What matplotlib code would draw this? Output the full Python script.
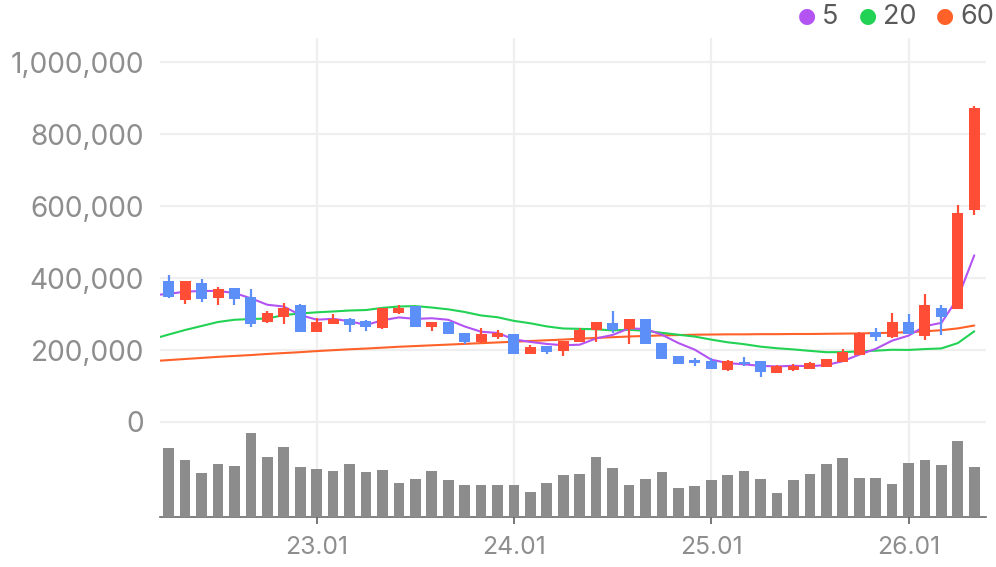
import matplotlib
matplotlib.use("Agg")
import matplotlib.pyplot as plt
import numpy as np
import pandas as pd

# ---------------- data ----------------
months = [p.strftime("%y.%m") for p in pd.period_range("2022-04", periods=50, freq="M")]

opens = [391.7, 339.7, 386.0, 345.0, 372.0, 347.0, 278.6, 292.5, 325.0, 250.8,
         272.0, 285.0, 281.0, 262.0, 303.6, 322.0, 264.7, 278.6, 248.0, 221.0,
         237.0, 244.0, 189.7, 211.0, 198.0, 223.0, 254.7, 275.0, 257.5, 286.0,
         219.0, 183.0, 172.0, 169.4, 144.4, 167.5, 169.4, 137.0, 144.4, 148.0,
         153.6, 165.8, 186.0, 249.0, 235.0, 278.6, 239.7, 316.7, 314.0, 589.7]
highs = [408.0, 391.7, 397.0, 375.0, 372.0, 369.0, 308.0, 330.6, 327.8, 289.0,
         300.0, 288.0, 283.0, 317.5, 325.0, 322.0, 277.8, 279.0, 248.0, 262.0,
         255.6, 244.0, 214.0, 211.0, 225.8, 260.0, 277.0, 308.0, 286.0, 286.0,
         219.0, 183.0, 178.6, 178.6, 172.0, 180.6, 169.4, 158.0, 160.3, 167.5,
         175.0, 202.8, 250.8, 260.0, 302.8, 300.0, 355.6, 325.0, 602.8, 877.8]
lows = [345.0, 328.6, 334.0, 326.0, 326.0, 265.0, 276.0, 273.0, 250.8, 250.8,
        272.0, 250.8, 253.0, 258.0, 300.0, 264.7, 253.0, 244.0, 217.0, 218.5,
        230.6, 189.7, 189.7, 189.0, 184.0, 223.0, 223.0, 246.0, 216.0, 217.5,
        176.0, 162.0, 156.0, 148.0, 141.7, 156.0, 125.8, 137.0, 141.7, 148.0,
        153.6, 165.8, 186.0, 225.8, 233.0, 245.0, 228.6, 242.5, 314.0, 575.0]
closes = [346.4, 391.7, 341.7, 369.0, 342.6, 273.0, 302.0, 317.5, 250.8, 277.8,
          285.0, 269.0, 265.0, 316.0, 317.5, 264.7, 277.8, 244.0, 223.0, 244.0,
          248.0, 189.7, 207.5, 195.0, 225.8, 255.6, 277.0, 255.6, 286.0, 217.5,
          176.0, 162.0, 163.0, 148.0, 168.6, 160.0, 139.7, 155.6, 156.4, 164.0,
          175.0, 193.6, 246.4, 236.0, 278.6, 245.0, 325.0, 292.5, 580.6, 872.0]

# moving-average values for the month before the first candle (clipped at the left edge)
ma_prev = {"5": 352.0, "20": 230.0, "60": 169.0}

ma5 = [356.0, 362.0, 364.0, 364.0, 358.3, 343.6, 325.7, 320.8, 297.2, 284.2,
       286.6, 280.0, 269.5, 282.6, 290.5, 286.4, 288.2, 284.0, 265.4, 250.7,
       247.4, 229.7, 222.4, 216.8, 213.2, 214.7, 232.2, 241.8, 260.0, 258.3,
       242.4, 219.4, 200.9, 173.3, 163.5, 160.3, 155.9, 154.4, 156.1, 155.1,
       158.1, 168.9, 187.1, 203.0, 225.9, 239.9, 266.2, 275.4, 344.3, 463.0]
ma20 = [243.0, 255.6, 266.7, 277.8, 284.0, 286.0, 287.5, 297.0, 301.4, 304.7,
        307.0, 309.7, 311.0, 317.0, 320.8, 322.0, 318.0, 313.0, 305.6, 295.9,
        291.0, 280.9, 274.2, 265.5, 259.7, 258.8, 257.5, 254.4, 256.2, 253.2,
        247.7, 242.4, 237.3, 228.9, 221.4, 216.2, 209.3, 204.9, 201.6, 197.6,
        193.9, 194.1, 196.0, 198.1, 200.7, 200.2, 202.6, 204.4, 219.2, 251.9]
ma60 = [172.0, 175.0, 178.0, 181.0, 183.5, 186.0, 189.0, 191.5, 194.0, 197.0,
        199.5, 202.0, 204.0, 206.5, 209.0, 211.0, 213.0, 215.0, 217.0, 219.0,
        221.0, 223.0, 225.0, 227.0, 229.0, 231.5, 233.5, 235.5, 237.5, 239.0,
        240.5, 241.5, 242.5, 243.0, 243.5, 243.5, 244.0, 244.0, 244.5, 244.5,
        245.0, 245.5, 246.0, 247.0, 248.0, 249.5, 252.0, 255.0, 260.0, 268.0]

volumes = [206, 170, 132, 159, 153, 251, 180, 210, 149, 143,
           137, 159, 134, 140, 102, 113, 137, 110, 96, 96,
           96, 96, 75, 102, 125, 129, 180, 146, 96, 113,
           134, 86, 92, 110, 125, 137, 113, 71, 110, 129,
           159, 176, 116, 116, 99, 162, 170, 156, 228, 149]

ma_labels = ["5", "20", "60"]
yticks = [0, 200000, 400000, 600000, 800000, 1000000]

# ---------------- style ----------------
RED = "#ff4d36"
BLUE = "#5c90f8"
C5 = "#b353f2"
C20 = "#22d254"
C60 = "#ff6128"
GRID = "#efefef"
TXT = "#8e8e8e"

plt.rcParams["font.family"] = ["Inter", "DejaVu Sans"]

W, H = 996, 567
fig = plt.figure(figsize=(W / 100, H / 100), dpi=100)

left_px, right_px = 160, 986
top_px, bottom_px = 38, 517
zero_px, top_val_px = 422, 62

ax = fig.add_axes([left_px / W, (H - bottom_px) / H,
                   (right_px - left_px) / W, (bottom_px - top_px) / H])
ax.set_facecolor("none")

x = np.arange(len(months))
o = np.array(opens) * 1000
h = np.array(highs) * 1000
l = np.array(lows) * 1000
c = np.array(closes) * 1000

ppu = (zero_px - top_val_px) / 1_000_000
ymin = -(bottom_px - zero_px) / ppu
ymax = 1_000_000 + (top_val_px - top_px) / ppu
ax.set_ylim(ymin, ymax)
xl = (left_px - 168.7) / 16.44
xr = (right_px - 168.7) / 16.44
ax.set_xlim(xl, xr)

# grid
for yv in yticks:
    ax.axhline(yv, color=GRID, lw=1.6, zorder=0)
tick_idx = [i for i, m in enumerate(months) if m.endswith(".01")]
for ti in tick_idx:
    ax.axvline(ti, color=GRID, lw=1.6, zorder=0)

# moving averages (under candles), including the clipped previous month
xm = np.arange(-1, len(months))
for key, vals, col in [("60", ma60, C60), ("20", ma20, C20), ("5", ma5, C5)]:
    ax.plot(xm, np.array([ma_prev[key]] + vals) * 1000, color=col, lw=1.5,
            zorder=2, solid_capstyle="round")

# candles
cols = [RED if cc >= oo else BLUE for oo, cc in zip(o, c)]
ax.vlines(x, l, h, colors=cols, lw=1.6, zorder=3)
bot = np.minimum(o, c)
hgt = np.maximum(np.abs(c - o), 3000)
ax.bar(x, hgt, bottom=bot, width=0.67, color=cols, zorder=4, linewidth=0)

# axes styling
for s in ["top", "right", "left"]:
    ax.spines[s].set_visible(False)
ax.spines["bottom"].set_color("#6b6b6b")
ax.spines["bottom"].set_linewidth(1.2)
ax.set_yticks(yticks)
ax.set_yticklabels([f"{v:,}" for v in yticks])
ax.tick_params(axis="y", length=0, pad=11.5, labelsize=20.2, labelcolor=TXT)
ax.set_xticks(tick_idx)
ax.set_xticklabels([months[i] for i in tick_idx])
ax.tick_params(axis="x", length=5, width=1.3, color="#6b6b6b", pad=8.5,
               labelsize=17.8, labelcolor=TXT)

# volume axes
vax = fig.add_axes([left_px / W, (H - bottom_px) / H,
                    (right_px - left_px) / W, (bottom_px - zero_px) / H])
vax.set_facecolor("none")
vax.bar(x, volumes, width=0.65, color="#8c8c8c", linewidth=0, zorder=1)
vax.set_xlim(xl, xr)
vax.set_ylim(0, 285)
vax.axis("off")

# legend
leg_cols = [C5, C20, C60]
circle_x = [806.7, 867.7, 945.0]
text_x = [822.0, 882.5, 960.5]
for lab, col, cx, tx in zip(ma_labels, leg_cols, circle_x, text_x):
    fig.text(cx / W, 1 - 16 / H, "\u25CF", color=col, fontsize=15,
             ha="center", va="center", family="DejaVu Sans")
    fig.text(tx / W, 1 - 16.5 / H, lab, color="#5a5a5a", fontsize=19.5,
             ha="left", va="center")

fig.savefig("out.png", dpi=100)
